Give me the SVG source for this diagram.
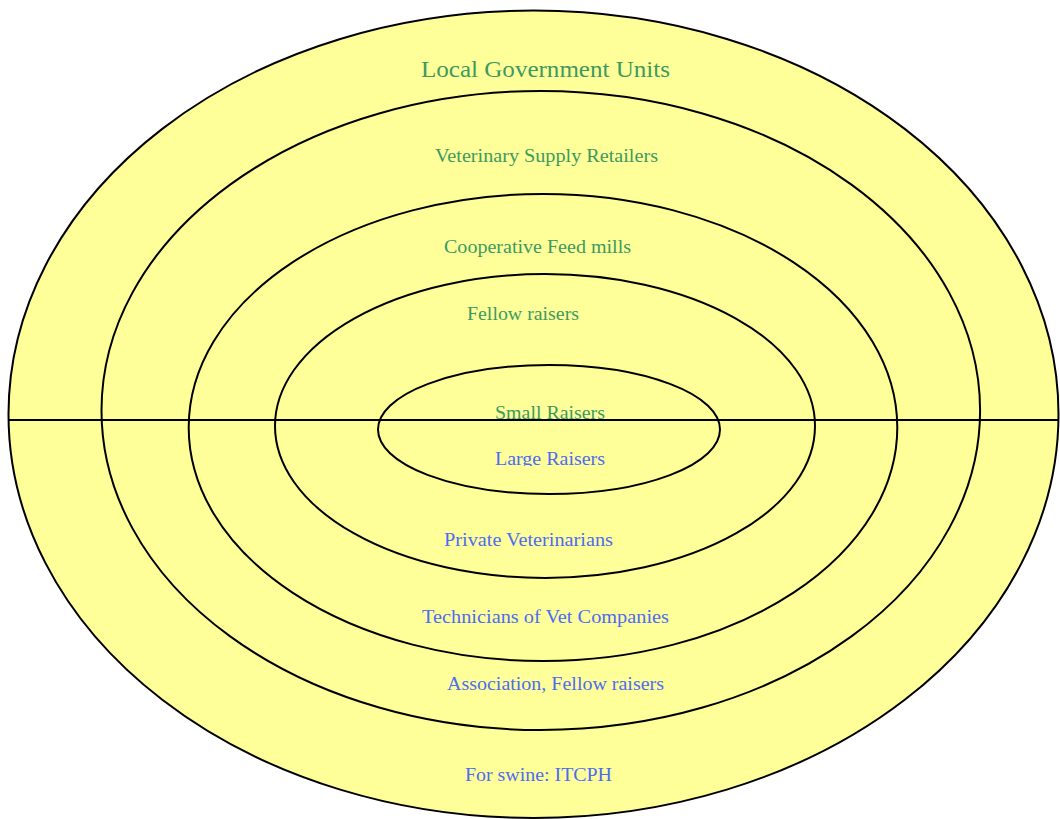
<svg xmlns="http://www.w3.org/2000/svg" width="1060" height="819" viewBox="0 0 1060 819">
<defs>
<style>
.ring{fill:#FFFF99;stroke:#000;stroke-width:2}
.t{font-family:"Liberation Serif","Times New Roman",serif;font-size:18px;text-anchor:middle}
.g{fill:#3C9A60}
.b{fill:#4D6CF2}
</style>
<clipPath id="clipLarge"><rect x="380" y="440" width="340" height="26"/></clipPath>
</defs>
<rect width="1060" height="819" fill="#fff"/>
<g id="ring-lgu"><ellipse class="ring" cx="533.5" cy="414.3" rx="525" ry="403.7"/></g>
<g id="ring-vet-supply"><ellipse class="ring" cx="540.8" cy="410.5" rx="439.3" ry="319.5"/></g>
<g id="ring-coop"><ellipse class="ring" cx="543" cy="427.5" rx="354.3" ry="233.5"/></g>
<g id="ring-fellow"><ellipse class="ring" cx="545" cy="426" rx="270" ry="152"/></g>
<g id="ring-inner"><ellipse class="ring" cx="549" cy="429.5" rx="171" ry="64.5"/></g>
<g id="connectors"><line x1="8" y1="420" x2="1059" y2="420" stroke="#000" stroke-width="2"/></g>
<g id="labels">
<text class="t g" x="545.5" y="77" style="font-size:24px" textLength="249" lengthAdjust="spacingAndGlyphs">Local Government Units</text>
<text class="t g" x="546.5" y="162" textLength="223" lengthAdjust="spacingAndGlyphs">Veterinary Supply Retailers</text>
<text class="t g" x="537.5" y="253" textLength="187" lengthAdjust="spacingAndGlyphs">Cooperative Feed mills</text>
<text class="t g" x="523" y="320" textLength="112" lengthAdjust="spacingAndGlyphs">Fellow raisers</text>
<text class="t g" x="550" y="419" textLength="110" lengthAdjust="spacingAndGlyphs">Small Raisers</text>
<text class="t b" x="550" y="465" clip-path="url(#clipLarge)" textLength="110" lengthAdjust="spacingAndGlyphs">Large Raisers</text>
<text class="t b" x="528.5" y="546" textLength="169" lengthAdjust="spacingAndGlyphs">Private Veterinarians</text>
<text class="t b" x="545.5" y="623" textLength="247" lengthAdjust="spacingAndGlyphs">Technicians of Vet Companies</text>
<text class="t b" x="555.5" y="690" textLength="217" lengthAdjust="spacingAndGlyphs">Association, Fellow raisers</text>
<text class="t b" x="538.5" y="781" textLength="147" lengthAdjust="spacingAndGlyphs">For swine: ITCPH</text>
</g>
</svg>
